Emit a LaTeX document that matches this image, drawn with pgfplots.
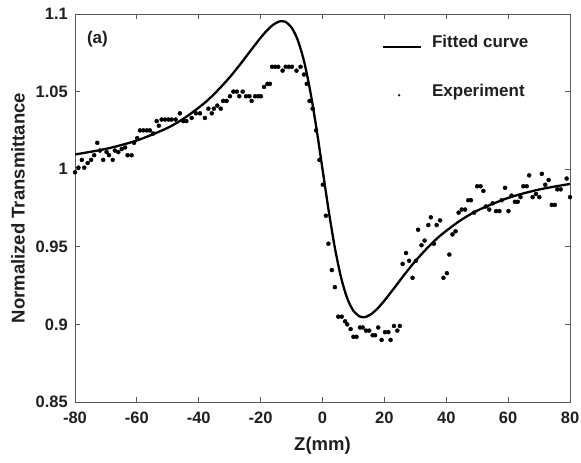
\documentclass[border=0pt]{standalone}
\usepackage{pgfplots}
\pgfplotsset{compat=1.18}
\usepackage{pgfplotstable}
\usepackage{fontspec}
\setmainfont{Liberation Sans}

\pgfplotstableread{
z T
-80 1.0095
-70 1.0131
-60 1.0185
-50 1.0267
-44 1.0338
-38 1.0429
-34 1.0505
-30 1.0592
-28 1.0641
-26 1.0691
-24 1.0744
-22 1.0796
-20 1.0847
-18 1.0893
-16 1.0930
-14 1.0952
-13 1.0954
-12 1.0950
-10 1.0913
-8 1.0832
-6 1.0698
-4 1.0507
-2 1.0268
0 1.0
2 0.9732
4 0.9493
6 0.9302
8 0.9168
10 0.9087
12 0.9051
13 0.9046
14 0.9048
16 0.9070
18 0.9107
20 0.9153
22 0.9204
24 0.9256
26 0.9309
28 0.9359
30 0.9408
34 0.9495
38 0.9571
44 0.9662
50 0.9733
60 0.9815
70 0.9869
80 0.9905
}\fitted

\pgfplotstableread{
z T
-80 0.998
-78.9 1.001
-77.8 1.006
-77 1.001
-75.9 1.004
-74.8 1.006
-73.8 1.009
-72.8 1.017
-71.9 1.012
-70.9 1.006
-69.8 1.011
-69 1.009
-67.8 1.006
-67.1 1.012
-66 1.011
-64.9 1.013
-63.8 1.014
-63 1.009
-61.7 1.009
-60.9 1.017
-59.9 1.020
-59 1.025
-57.9 1.025
-56.8 1.025
-55.8 1.025
-54.7 1.023
-53.6 1.031
-52.9 1.028
-52 1.032
-50.9 1.032
-49.8 1.032
-48.8 1.032
-47.5 1.032
-46.1 1.036
-45 1.031
-44 1.031
-42.3 1.033
-40.9 1.036
-39.6 1.036
-38 1.033
-36.9 1.039
-35.8 1.036
-35.1 1.039
-34 1.041
-32.9 1.039
-32.1 1.044
-31 1.044
-29.9 1.047
-28.8 1.050
-27.7 1.050
-26.9 1.047
-25.8 1.050
-24.7 1.047
-23.6 1.047
-22.9 1.044
-21.8 1.047
-20.8 1.047
-19.9 1.047
-18.9 1.053
-17.8 1.055
-17 1.055
-16.3 1.066
-15.3 1.066
-14.3 1.066
-12.9 1.0635
-11.9 1.066
-10.9 1.066
-9.9 1.066
-8.4 1.0635
-7.1 1.066
-6 1.061
-5.1 1.055
-4.2 1.044
-3.2 1.039
-2.1 1.025
-1 1.006
0.1 0.990
1.1 0.970
1.9 0.952
3 0.935
4 0.924
5.1 0.905
6.2 0.905
7.3 0.902
8 0.900
9.1 0.897
10 0.892
11 0.892
12.1 0.898
13 0.898
14.1 0.896
15.1 0.896
16.2 0.893
17 0.893
18 0.898
19.1 0.890
20.2 0.895
21.3 0.895
22 0.890
23.1 0.899
24.2 0.896
25 0.899
25.9 0.939
27 0.946
28 0.941
29.1 0.930
30.2 0.941
30.9 0.961
32 0.951
33 0.954
34.2 0.964
35 0.969
36 0.952
36.9 0.964
38 0.967
39.1 0.930
40.2 0.933
41 0.945
42 0.958
43 0.960
44 0.972
45 0.974
46.1 0.974
47.1 0.980
48 0.980
49 0.972
50 0.989
51.1 0.989
52 0.986
52.8 0.976
53.9 0.974
55 0.978
56.1 0.973
57.2 0.973
57.9 0.980
59 0.988
60.1 0.973
61.1 0.983
62.2 0.979
63.1 0.979
64 0.982
64.9 0.989
66 0.989
66.8 0.996
67.9 0.982
69 0.984
70.1 0.982
70.9 0.997
72 0.990
73.1 0.993
74.1 0.977
75.1 0.977
75.9 0.987
77 0.987
78.9 0.994
80 0.982
}\experiment

\begin{document}
\begin{tikzpicture}
\begin{axis}[
  scale only axis,
  width=495pt, height=388pt,
  xmin=-80, xmax=80, ymin=0.85, ymax=1.1,
  xtick={-80,-60,-40,-20,0,20,40,60,80},
  xticklabels={-80,-60,-40,-20,0,20,40,60,80},
  ytick={0.85,0.9,0.95,1,1.05,1.1},
  yticklabels={0.85,0.9,0.95,1,1.05,1.1},
  tick align=inside,
  major tick length=5pt,
  axis line style={black!65, line width=0.8pt},
  every tick/.style={black!65, line width=0.8pt},
  tick label style={font=\fontsize{16.5}{19}\selectfont\bfseries, text=black!88, inner sep=0pt},
  xticklabel style={anchor=north, yshift=-10pt},
  yticklabel style={anchor=east, xshift=-7pt},
  xlabel={Z(mm)},
  ylabel={Normalized Transmittance},
  label style={font=\fontsize{18.5}{21}\selectfont\bfseries, text=black!88},
  xlabel style={at={(axis description cs:0.5,-0.1134)}, anchor=center},
  ylabel style={at={(axis description cs:-0.1152,0.5)}, anchor=center, rotate=0},
  legend style={at={(axis description cs:0.62,0.945)}, anchor=north west,
    draw=none, fill=none, inner sep=0pt, row sep=35pt, column sep=10pt,
    font=\fontsize{17}{20}\selectfont\bfseries, text=black!88,
    nodes={inner sep=0pt, anchor=west}},
  legend cell align=left,
]
\addplot[black, line width=2.3pt, smooth,
  legend image code/.code={\draw[black, line width=2pt] (0pt,-5pt) -- (38pt,-5pt);}]
  table[x=z, y=T] {\fitted};
\addlegendentry{Fitted curve}
\addplot[only marks, mark=*, mark size=2pt, black,
  legend image code/.code={\fill[black, draw=none] (16pt,-4pt) circle (1.3pt); \path[draw=none, fill=none] (0pt,0pt) (38pt,0pt);}]
  table[x=z, y=T] {\experiment};
\addlegendentry{Experiment}
\node[anchor=north west, inner sep=0pt, font=\fontsize{17}{20}\selectfont\bfseries, text=black!88]
  at (axis description cs:0.024,0.957) {(a)};
\end{axis}
\pgfresetboundingbox
\path ([shift={(-75pt,-60pt)}]current axis.south west) rectangle ([shift={(11pt,14pt)}]current axis.north east);
\end{tikzpicture}
\end{document}
